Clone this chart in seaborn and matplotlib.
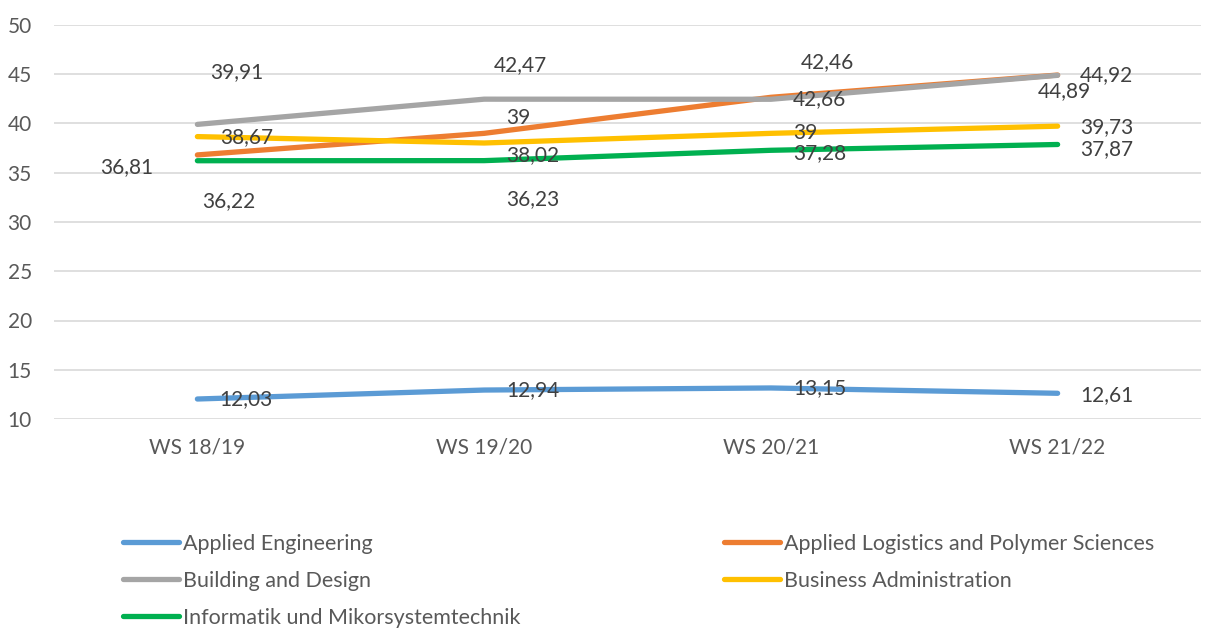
import matplotlib
matplotlib.use("Agg")
import matplotlib.pyplot as plt
from matplotlib.lines import Line2D
import seaborn as sns
import pandas as pd

terms = ["WS 18/19", "WS 19/20", "WS 20/21", "WS 21/22"]
programs = ["Applied Engineering", "Applied Logistics and Polymer Sciences",
            "Building and Design", "Business Administration",
            "Informatik und Mikorsystemtechnik"]
applied_engineering = [12.03, 12.94, 13.15, 12.61]
applied_logistics = [36.81, 39.00, 42.66, 44.92]
building_design = [39.91, 42.47, 42.46, 44.89]
business_admin = [38.67, 38.02, 39.00, 39.73]
informatik = [36.22, 36.23, 37.28, 37.87]

colors = ["#5B9BD5", "#ED7D31", "#A5A5A5", "#FFC000", "#00B050"]

# data label offsets in pixels (dx, dy up), per series and term
label_offsets = [
    [(49, 0), (49, 0), (49, 0), (49, -2)],
    [(-71, -12), (34, 15), (49, -2), (49, 0)],
    [(39, 52), (36, 34), (57, 37), (7, -16)],
    [(49, 0), (49, -12), (34, 0), (49, -1)],
    [(31, -40), (49, -38), (49, -3), (49, -5)],
]

series = [applied_engineering, applied_logistics, building_design, business_admin, informatik]
rows = []
for name, vals in zip(programs, series):
    for t, v in zip(terms, vals):
        rows.append({"term": t, "value": v, "program": name})
df = pd.DataFrame(rows)

sns.set_style("white")
plt.rcParams["font.family"] = ["Lato", "DejaVu Sans"]

fig = plt.figure(figsize=(12.05, 6.3), dpi=100)
ax = fig.add_axes([54 / 1205, 1 - 419 / 630, 1147 / 1205, 394 / 630])

sns.lineplot(data=df, x="term", y="value", hue="program", hue_order=programs,
             palette=colors, linewidth=3.8, sort=False, legend=False, ax=ax,
             solid_capstyle="round")

text_color = "#404040"
for s, (name, vals) in enumerate(zip(programs, series)):
    for i, v in enumerate(vals):
        lab = f"{v:g}".replace(".", ",")
        dx, dy = label_offsets[s][i]
        ax.annotate(lab, (i, v), xytext=(dx, dy), textcoords="offset pixels",
                    ha="center", va="center", fontsize=15, color=text_color)

ax.set_xlim(-0.5, 3.5)
ax.set_ylim(10, 50)
ax.set_yticks(range(10, 51, 5))
ax.set_xlabel("")
ax.set_ylabel("")
ax.yaxis.grid(True, color="#D9D9D9", linewidth=1.2)
ax.set_axisbelow(True)
for sp in ax.spines.values():
    sp.set_visible(False)
ax.tick_params(axis="both", length=0, labelsize=15, labelcolor="#595959")
ax.tick_params(axis="y", pad=16)
ax.tick_params(axis="x", pad=13)

handles = [Line2D([], [], color=c, linewidth=3.8, solid_capstyle="round") for c in colors]
leg_kw = dict(frameon=False, fontsize=15.5, handlelength=2.6, handletextpad=0.2,
              labelspacing=0.78, borderpad=0, borderaxespad=0, loc="upper left",
              labelcolor="#595959")
leg1 = fig.legend([handles[0], handles[2], handles[4]], [programs[0], programs[2], programs[4]],
                  bbox_to_anchor=(123 / 1205, 1 - 534 / 630), **leg_kw)
leg2 = fig.legend([handles[1], handles[3]], [programs[1], programs[3]],
                  bbox_to_anchor=(724 / 1205, 1 - 534 / 630), **leg_kw)

fig.savefig("out.png", dpi=100)
